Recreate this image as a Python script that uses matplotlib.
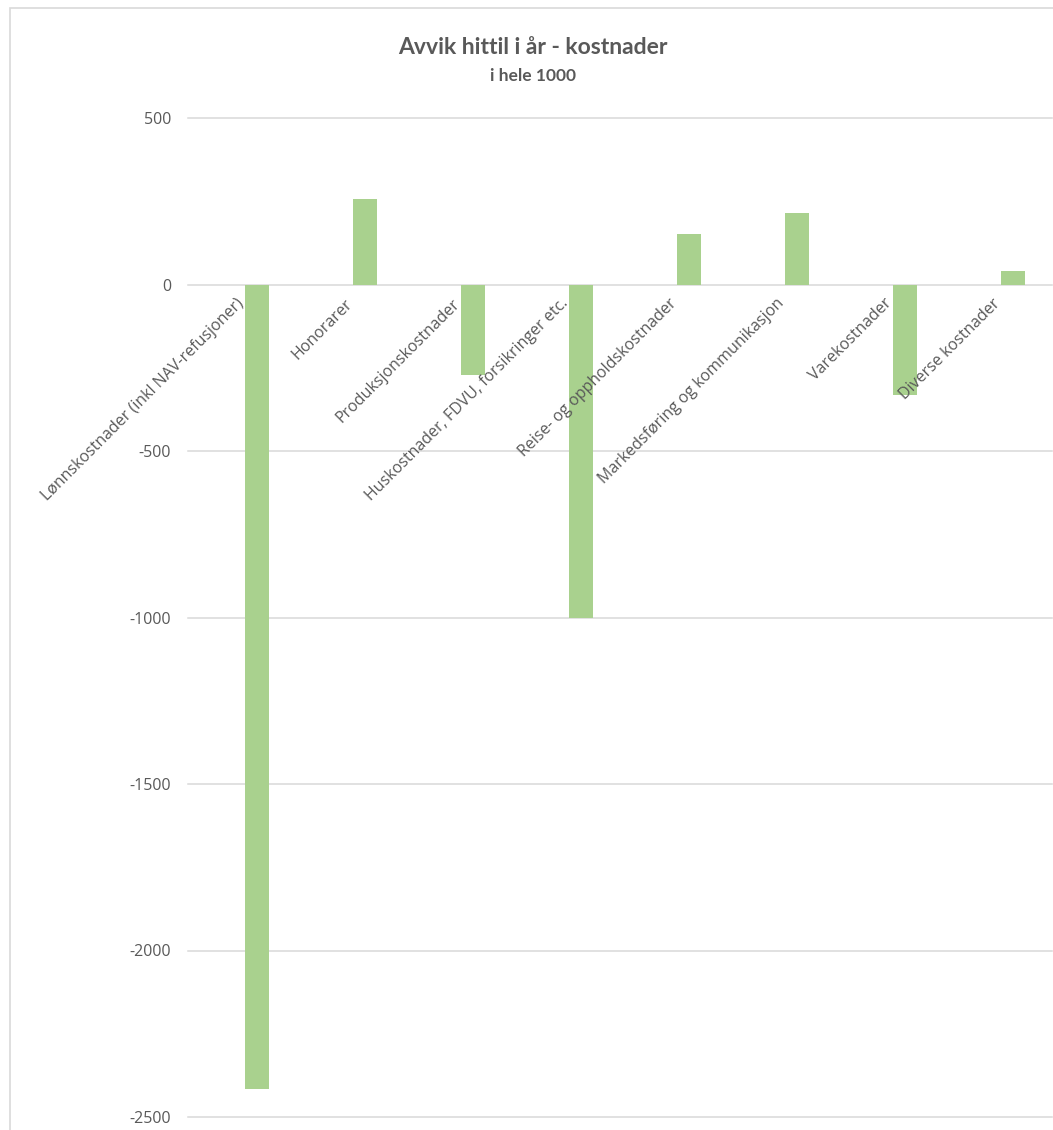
import numpy as np
import matplotlib
matplotlib.use("Agg")
import matplotlib.pyplot as plt
from matplotlib.patches import Rectangle

plt.rcParams['font.family'] = ['Open Sans', 'DejaVu Sans']
plt.rcParams['axes.unicode_minus'] = False

categories = [
    "Lønnskostnader (inkl NAV-refusjoner)",
    "Honorarer",
    "Produksjonskostnader",
    "Huskostnader, FDVU, forsikringer etc.",
    "Reise- og oppholdskostnader",
    "Markedsføring og kommunikasjon",
    "Varekostnader",
    "Diverse kostnader",
]
avvik = [-2417, 258, -273, -1000, 153, 216, -333, 42]
y_ticks = [500, 0, -500, -1000, -1500, -2000, -2500]

title = "Avvik hittil i år - kostnader"
subtitle = "i hele 1000"

bar_color = "#A9D18E"
text_color = "#595959"
grid_color = "#D9D9D9"

W, H = 1053, 1130
fig = plt.figure(figsize=(W / 100, H / 100), dpi=100)
ax = fig.add_axes([188 / W, 13 / H, 864 / W, 999 / H])

x = np.arange(len(categories))

# gridlines under the bars, category labels on top of them (like Excel)
for v in y_ticks:
    ax.axhline(v, color=grid_color, linewidth=1.1, zorder=1, clip_on=False)
# only the second series of each cluster carries values, so bars sit right of centre
ax.bar(x + 0.14, avvik, width=0.222, color=bar_color, edgecolor="none", zorder=2)

ax.set_xlim(-0.5, len(categories) - 0.5)
ax.set_ylim(min(y_ticks), max(y_ticks))
ax.set_yticks(y_ticks)
ax.set_yticklabels([str(v) for v in y_ticks])
ax.xaxis.set_zorder(3)

for s in ax.spines.values():
    s.set_visible(False)
ax.spines['bottom'].set_position(('data', 0))

ax.set_xticks(x)
ax.set_xticklabels(categories)
ax.tick_params(axis='x', length=0, pad=12, labelsize=11.5, labelcolor=text_color)
ax.tick_params(axis='y', length=0, pad=12, labelsize=11.5, labelcolor=text_color)
for lab in ax.get_xticklabels():
    lab.set_rotation(45)
    lab.set_ha('right')
    lab.set_va('center')
    lab.set_rotation_mode('anchor')

fig.text(533 / W, 1 - 48 / H, title, ha='center', va='center', fontsize=16.5,
         fontweight='bold', color=text_color, family=['Lato', 'DejaVu Sans'])
fig.text(533 / W, 1 - 76 / H, subtitle, ha='center', va='center', fontsize=12.5,
         fontweight='bold', color=text_color, family=['Lato', 'DejaVu Sans'])

# chart area frame (cut off at right and bottom in the screenshot)
fig.patches.append(Rectangle((9.5 / W, -0.05), 1.2, 1.05 - 7.5 / H,
                             transform=fig.transFigure, fill=False,
                             edgecolor=grid_color, linewidth=1.2))

fig.savefig("out.png", dpi=100, facecolor="white")
